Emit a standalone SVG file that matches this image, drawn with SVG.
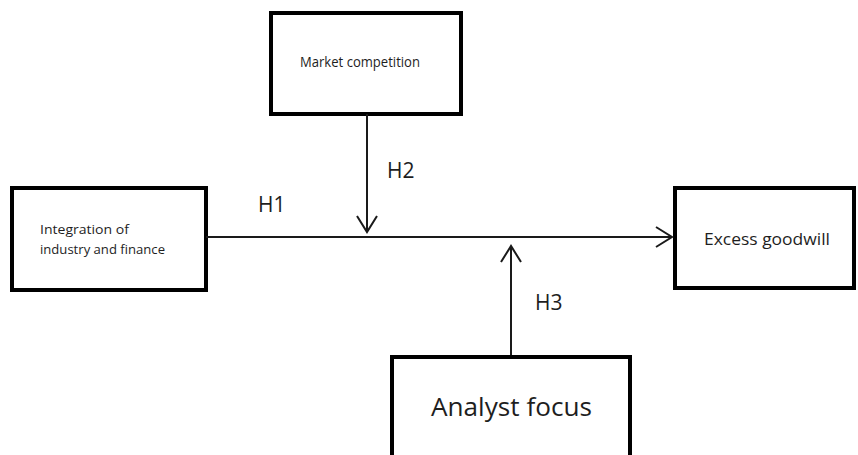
<svg xmlns="http://www.w3.org/2000/svg" width="858" height="455" viewBox="0 0 858 455">
<style>
.box{fill:#fff;stroke:#000;stroke-width:4}
.ln{fill:none;stroke:#1a1a1a;stroke-width:2}
.t{font-family:"Open Sans","Liberation Sans",sans-serif;fill:#1e1e1e}
.h{font-size:21px}
</style>
<defs>
<marker id="ah" viewBox="0 0 20 24" refX="18" refY="12" markerWidth="20" markerHeight="24" markerUnits="userSpaceOnUse" orient="auto">
<path d="M2,2 L18,12 L2,22" fill="none" stroke="#1a1a1a" stroke-width="2"/>
</marker>
</defs>
<rect width="858" height="455" fill="#fff"/>
<g id="market">
<rect class="box" x="271" y="13" width="190" height="101"/>
<text class="t" x="300" y="67" font-size="14" textLength="120" lengthAdjust="spacingAndGlyphs">Market competition</text>
</g>
<g id="integration">
<rect class="box" x="12" y="188" width="194" height="102"/>
<text class="t" x="40" y="234" font-size="13.5" textLength="89" lengthAdjust="spacingAndGlyphs">Integration of</text>
<text class="t" x="40" y="254" font-size="13.5" textLength="125" lengthAdjust="spacingAndGlyphs">industry and finance</text>
</g>
<g id="excess">
<rect class="box" x="675" y="188" width="179" height="100"/>
<text class="t" x="704" y="245" font-size="17" textLength="126" lengthAdjust="spacingAndGlyphs">Excess goodwill</text>
</g>
<g id="analyst">
<rect class="box" x="392" y="357" width="238" height="110"/>
<text class="t" x="431" y="416" font-size="26" textLength="161" lengthAdjust="spacingAndGlyphs">Analyst focus</text>
</g>
<g id="connectors">
<line class="ln" x1="206" y1="237" x2="672" y2="237" marker-end="url(#ah)"/>
<line class="ln" x1="367" y1="114" x2="367" y2="232" marker-end="url(#ah)"/>
<line class="ln" x1="511" y1="355" x2="511" y2="246" marker-end="url(#ah)"/>
<text class="t h" x="258" y="212">H1</text>
<text class="t h" x="387" y="178">H2</text>
<text class="t h" x="535" y="310">H3</text>
</g>
</svg>
